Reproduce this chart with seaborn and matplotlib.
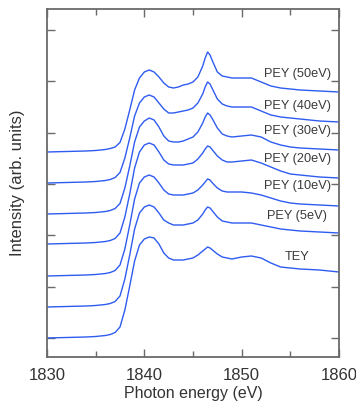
import numpy as np
import pandas as pd
import matplotlib
matplotlib.use('Agg')
import matplotlib.pyplot as plt
import seaborn as sns

# photon energy grid (eV)
energy = [1830, 1832, 1834, 1835, 1836, 1836.5, 1837, 1837.5,
          1838, 1838.5, 1839, 1839.5, 1840, 1840.5, 1841, 1841.5,
          1842, 1842.5, 1843, 1843.5, 1844, 1844.5, 1845, 1845.5,
          1846, 1846.25, 1846.5, 1846.75, 1847, 1847.5, 1848, 1848.5,
          1849, 1850, 1851, 1852, 1853, 1854, 1855, 1856,
          1858, 1860]

# spectra (arb. units, baseline at 0)
tey = [0, 0.5, 1, 1.5, 2.5, 3.5, 5.5, 11,
       28, 52, 77, 93, 99, 101, 100, 94,
       85, 80, 78, 78, 78, 79, 80, 83,
       87, 89, 91, 90, 88, 84, 81, 80,
       79, 81, 82, 80, 75, 71, 70, 69,
       68, 66]
pey5 = [0, 0.5, 1, 1.5, 2.5, 3.5, 5.5, 11,
        28, 52, 78, 94, 100, 102, 100, 94,
        87, 84, 82, 82, 82, 83, 84, 87,
        93, 97, 100, 99, 96, 90, 86, 85,
        84, 84, 84, 82, 80, 78, 77, 76,
        75, 74]
pey10 = [0, 0.5, 1, 1.5, 2.5, 3.5, 5.5, 11,
         27, 51, 77, 93, 99, 101, 99, 93,
         86, 82, 81, 81, 81, 82, 83, 86,
         91, 94, 97, 96, 93, 88, 85, 84,
         84, 84, 83, 81, 78, 75, 73, 72,
         71, 70]
pey20 = [0, 0.5, 1, 1.5, 2.5, 3.5, 5.5, 11,
         27, 50, 76, 92, 99, 101, 99, 92,
         84, 80, 79, 79, 79, 80, 81, 85,
         91, 95, 98, 97, 94, 88, 84, 82,
         82, 83, 84, 81, 77, 73, 70, 69,
         67, 66]
pey30 = [0, 0.5, 1, 1.5, 2.5, 3.5, 5.5, 10.5,
         26, 48, 72, 87, 93, 96, 94, 87,
         78, 73, 72, 72, 73, 75, 77, 82,
         91, 97, 101, 99, 95, 86, 80, 78,
         77, 78, 79, 77, 72, 69, 67, 66,
         65, 64]
pey40 = [0, 0.5, 1, 1.5, 2.5, 3.5, 5.5, 10.5,
         25, 45, 67, 80, 86, 88, 86, 80,
         74, 70, 70, 71, 72, 73, 75, 80,
         89, 96, 101, 99, 94, 84, 79, 77,
         76, 76, 76, 72, 68, 66, 65, 64,
         62, 61]
pey50 = [0, 0.5, 1, 1.5, 2.5, 3.5, 5, 9.5,
         23, 42, 62, 74, 80, 82, 80, 75,
         69, 65, 64, 65, 67, 68, 70, 75,
         86, 94, 100, 97, 91, 80, 76, 75,
         74, 74, 74, 70, 66, 64, 63, 62,
         61, 60]

labels = ['TEY', 'PEY (5eV)', 'PEY (10eV)', 'PEY (20eV)', 'PEY (30eV)', 'PEY (40eV)', 'PEY (50eV)']
spectra = [tey, pey5, pey10, pey20, pey30, pey40, pey50]
offsets = [0, 31, 62, 94, 124, 155, 186]
label_heights = [81, 91, 90, 85, 83, 77, 78]

scale = 51.33  # one y tick spacing
rows = []
for lab, spec, off in zip(labels, spectra, offsets):
    for e, v in zip(energy, spec):
        rows.append({'energy': e, 'intensity': (v + off) / scale, 'curve': lab})
df = pd.DataFrame(rows)

sns.set_style('ticks')
plt.rcParams['font.family'] = ['Liberation Sans', 'DejaVu Sans']

line_color = '#2f5cf0'
axis_color = '#6a6a6a'

fig = plt.figure(figsize=(3.56, 4.03), dpi=100)
ax = fig.add_axes([47 / 356, 46 / 403, 292 / 356, 348 / 403])

sns.lineplot(data=df, x='energy', y='intensity', units='curve', estimator=None,
             color=line_color, linewidth=1.0, ax=ax)

for lab, off, h in zip(labels, offsets, label_heights):
    ax.text(1855.7, (off + h) / scale, lab, ha='center', va='center',
            fontsize=9.2, color='#3a3a3a')

ax.set_xlim(1830, 1860)
ax.set_ylim(-19 / scale, 329 / scale)
ax.set_xticks([1830, 1840, 1850, 1860])
ax.set_xticks([1835, 1845, 1855], minor=True)
ax.set_yticks(range(0, 7))
ax.set_yticklabels([])

ax.tick_params(which='both', direction='in', top=True, right=True,
               color=axis_color, width=1.0)
ax.tick_params(which='major', length=6)
ax.tick_params(which='minor', length=4)
ax.tick_params(axis='x', labelsize=12, labelcolor='#333333', pad=8)
for s in ax.spines.values():
    s.set_color(axis_color)
    s.set_linewidth(1.3)

ax.set_xlabel('Photon energy (eV)', fontsize=11.5, color='#333333', labelpad=2)
ax.set_ylabel('Intensity (arb. units)', fontsize=12, color='#333333', labelpad=12)

fig.savefig('out.png', dpi=100)
